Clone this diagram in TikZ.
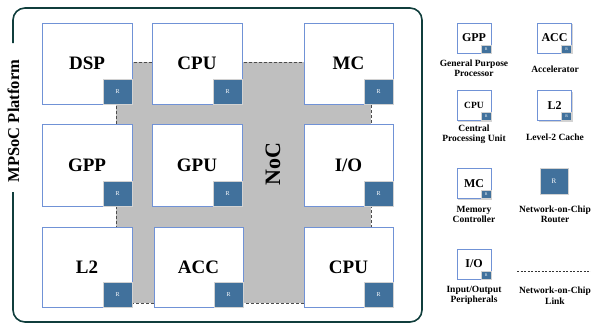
\documentclass[tikz,border=0pt]{standalone}
\usepackage{fontspec}
\setmainfont{Liberation Serif}
\usepackage{xcolor}
\usepackage{tikz}
\usetikzlibrary{positioning, shadows}

\definecolor{frameteal}{RGB}{16,62,60}
\definecolor{boxblue}{RGB}{112,146,214}
\definecolor{routerblue}{RGB}{65,113,156}
\definecolor{nocgrey}{RGB}{191,191,191}

\begin{document}
\begin{tikzpicture}[x=1pt, y=-1pt,
    pe/.style={draw=boxblue, line width=0.9pt, fill=white, minimum width=90pt, minimum height=81pt, inner sep=0pt,
      font=\fontsize{19}{19}\selectfont\bfseries, drop shadow={shadow xshift=1.2pt, shadow yshift=-1.2pt, opacity=0.35}},
    router/.style={draw=gray!35, line width=0.6pt, fill=routerblue, text=white, minimum width=29pt, minimum height=25pt,
      inner sep=0pt, font=\fontsize{6}{6}\selectfont},
    legpe/.style={pe, minimum width=34pt, minimum height=30pt, font=\fontsize{12}{12}\selectfont\bfseries},
    legrouter/.style={router, minimum width=10pt, minimum height=8pt, font=\fontsize{4}{4}\selectfont},
    legtext/.style={align=center, inner sep=0pt, font=\fontsize{9.5}{10.5}\selectfont\bfseries},
    nocarea/.style={fill=nocgrey, draw=black!70, dash pattern=on 3pt off 2pt, line width=0.6pt},
    link/.style={draw=black!80, dash pattern=on 2pt off 1.5pt, line width=0.8pt},
    frame/.style={draw=frameteal, line width=1.6pt, rounded corners=12pt}]
  \useasboundingbox (0,0) rectangle (591,324);

  % platform frame
  \draw[frame] (13,43) -- (13,8) -- (422,8) -- (422,322) -- (13,322) -- (13,192);
  \node[rotate=90, font=\fontsize{16.5}{16.5}\selectfont\bfseries] (platform) at (13.5,121) {MPSoC Platform};

  % network on chip
  \node[nocarea, minimum width=255pt, minimum height=241pt] (noc) at (243.5,182.5) {};
  \node[rotate=90, font=\fontsize{22}{22}\selectfont\bfseries] (noclabel) at (273,164) {NoC};

  % processing elements
  \node[pe] (dsp) at (87,63.5) {DSP};
  \node[pe] (cpua) at (197,63.5) {CPU};
  \node[pe, minimum width=89pt] (mc) at (348.5,63.5) {MC};
  \node[pe, minimum height=82pt] (gpp) at (87,165) {GPP};
  \node[pe, minimum height=82pt] (gpu) at (197,165) {GPU};
  \node[pe, minimum width=89pt, minimum height=82pt] (io) at (348.5,165) {I/O};
  \node[pe, minimum height=80pt] (ltwo) at (87,267) {L2};
  \node[pe, minimum width=89pt, minimum height=80pt] (acc) at (198.5,267) {ACC};
  \node[pe, minimum width=89pt, minimum height=80pt] (cpub) at (348.5,267) {CPU};

  % routers
  \node[router, anchor=south east] (rdsp) at (dsp.south east) {R};
  \node[router, anchor=south east] (rcpua) at (cpua.south east) {R};
  \node[router, anchor=south east] (rmc) at (mc.south east) {R};
  \node[router, anchor=south east] (rgpp) at (gpp.south east) {R};
  \node[router, anchor=south east] (rgpu) at (gpu.south east) {R};
  \node[router, anchor=south east] (rio) at (io.south east) {R};
  \node[router, anchor=south east] (rltwo) at (ltwo.south east) {R};
  \node[router, anchor=south east] (racc) at (acc.south east) {R};
  \node[router, anchor=south east] (rcpub) at (cpub.south east) {R};

  % legend
  \node[legpe] (lgpp) at (474,38) {GPP};
  \node[legrouter, anchor=south east] (lgppr) at (lgpp.south east) {R};
  \node[legtext] (lgpptext) at (474,68) {General Purpose\\Processor};

  \node[legpe] (lacc) at (554.5,38) {ACC};
  \node[legrouter, anchor=south east] (laccr) at (lacc.south east) {R};
  \node[legtext] (lacctext) at (555,69) {Accelerator};

  \node[legpe, font=\fontsize{9.5}{9.5}\selectfont\bfseries] (lcpu) at (474,105.5) {CPU};
  \node[legrouter, anchor=south east] (lcpur) at (lcpu.south east) {R};
  \node[legtext] (lcputext) at (474,134.5) {Central\\Processing Unit};

  \node[legpe] (lltwo) at (554.5,105.5) {L2};
  \node[legrouter, anchor=south east] (lltwor) at (lltwo.south east) {R};
  \node[legtext] (lltwotext) at (555,137) {Level-2 Cache};

  \node[legpe] (lmc) at (474,183.5) {MC};
  \node[legrouter, anchor=south east] (lmcr) at (lmc.south east) {R};
  \node[legtext] (lmctext) at (474,214.5) {Memory\\Controller};

  \node[router, minimum width=28pt, minimum height=26pt, font=\fontsize{7}{7}\selectfont] (lrouter) at (554,181) {R};
  \node[legtext] (lroutertext) at (555,214.5) {Network-on-Chip\\Router};

  \node[legpe] (lio) at (474,264) {I/O};
  \node[legrouter, anchor=south east] (lior) at (lio.south east) {R};
  \node[legtext] (liotext) at (474,295.5) {Input/Output\\Peripherals};

  \coordinate (linkstart) at (517,271);
  \coordinate (linkend) at (592,271);
  \draw[link] (linkstart) -- (linkend);
  \node[legtext] (linktext) at (555,295.5) {Network-on-Chip\\Link};
\end{tikzpicture}
\end{document}
